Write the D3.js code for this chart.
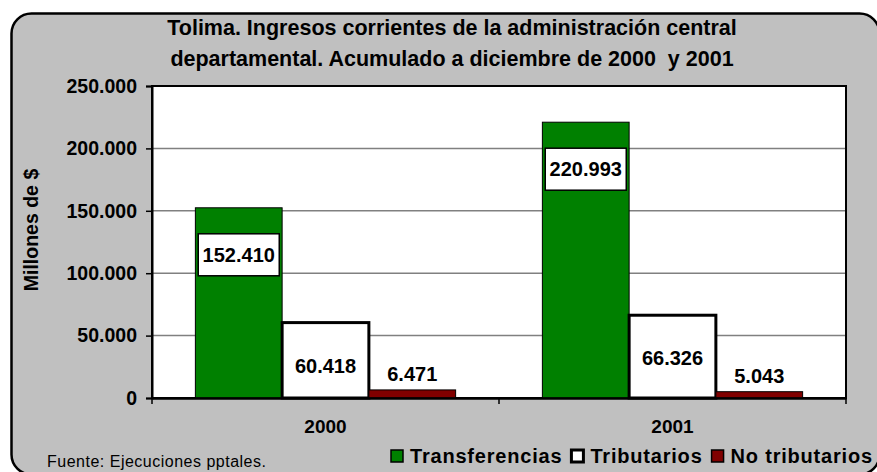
<!DOCTYPE html>
<html>
<head>
<meta charset="utf-8">
<script src="https://cdn.jsdelivr.net/npm/d3@7"></script>
<style>
  body { margin: 0; background: #fff; }
  svg { display: block; font-family: Arial, "Liberation Sans", sans-serif; }
</style>
</head>
<body>
<svg id="chart" width="877" height="472"></svg>
<script>
// data
const years = ['2000', '2001'];
const series = ['Transferencias', 'Tributarios', 'No tributarios'];
const transferencias = [152410, 220993];
const tributarios = [60418, 66326];
const noTributarios = [6471, 5043];
const yTicks = [0, 50000, 100000, 150000, 200000, 250000];

const colors = ['#008000', '#ffffff', '#800000'];
const strokeW = [1, 3, 1];

const plot = { left: 152, right: 846, top: 86, bottom: 398 };

const svg = d3.select('#chart');

// outer rounded frame
svg.append('rect')
  .attr('x', 11.5).attr('y', 13.5)
  .attr('width', 868).attr('height', 461)
  .attr('rx', 20).attr('ry', 20)
  .style('fill', '#c0c0c0')
  .style('stroke', '#000')
  .style('stroke-width', 2.5);

// title
const title = ['Tolima. Ingresos corrientes de la administración central',
  'departamental. Acumulado a diciembre de 2000  y 2001'];
svg.append('g').selectAll('text')
  .data(title)
  .enter().append('text')
  .attr('x', 452)
  .attr('y', (d, i) => 35 + i * 31)
  .attr('text-anchor', 'middle')
  .style('font-size', '21.5px')
  .style('font-weight', 'bold')
  .style('white-space', 'pre')
  .text(d => d);

const y = d3.scaleLinear().domain([0, 250000]).range([plot.bottom, plot.top]);
const x0 = d3.scaleBand().domain(years).range([plot.left, plot.right]);
const x1 = d3.scaleBand().domain(series).range([0, x0.bandwidth()])
  .paddingInner(0).paddingOuter(0.5);

// plot area
svg.append('rect')
  .attr('x', plot.left).attr('y', plot.top)
  .attr('width', plot.right - plot.left).attr('height', plot.bottom - plot.top)
  .style('fill', '#fff');

// grid lines
svg.append('g').selectAll('line')
  .data(yTicks.filter(t => t > 0 && t < 250000))
  .enter().append('line')
  .attr('x1', plot.left).attr('x2', plot.right)
  .attr('y1', d => y(d)).attr('y2', d => y(d))
  .style('stroke', '#808080')
  .style('stroke-width', 1.5);

// plot border
svg.append('rect')
  .attr('x', plot.left).attr('y', plot.top)
  .attr('width', plot.right - plot.left).attr('height', plot.bottom - plot.top)
  .style('fill', 'none')
  .style('stroke', '#000')
  .style('stroke-width', 2);

// bars
const values = [transferencias, tributarios, noTributarios];
const rows = [];
years.forEach((yr, i) => {
  series.forEach((s, j) => rows.push({ year: yr, s: s, j: j, v: values[j][i] }));
});

svg.append('g').selectAll('rect')
  .data(rows)
  .enter().append('rect')
  .attr('x', d => x0(d.year) + x1(d.s))
  .attr('y', d => y(d.v))
  .attr('width', x1.bandwidth())
  .attr('height', d => y(0) - y(d.v))
  .style('fill', d => colors[d.j])
  .style('stroke', '#000')
  .style('stroke-width', d => strokeW[d.j]);

// y axis
const yAxis = svg.append('g')
  .attr('transform', `translate(${plot.left},0)`)
  .call(d3.axisLeft(y).tickValues(yTicks).tickSize(6).tickPadding(9)
    .tickFormat(d => d3.format(',')(d).replace(/,/g, '.')));
yAxis.select('.domain').style('stroke-width', 2);
yAxis.selectAll('.tick line').style('stroke-width', 1.5);
yAxis.selectAll('text')
  .style('font-size', '19.5px')
  .style('font-weight', 'bold')
  .style('font-family', 'Arial, "Liberation Sans", sans-serif')
  .attr('fill', '#000');

// x axis
const xAxis = svg.append('g')
  .attr('transform', `translate(0,${plot.bottom})`)
  .call(d3.axisBottom(x0).tickSize(0).tickPadding(22));
xAxis.select('.domain').style('stroke-width', 2.5);
xAxis.selectAll('text')
  .style('font-size', '19px')
  .style('font-weight', 'bold')
  .style('font-family', 'Arial, "Liberation Sans", sans-serif')
  .attr('fill', '#000');
svg.append('g').selectAll('line')
  .data([plot.left, x0('2001'), plot.right])
  .enter().append('line')
  .attr('x1', d => d).attr('x2', d => d)
  .attr('y1', plot.bottom).attr('y2', plot.bottom + 6)
  .style('stroke', '#000')
  .style('stroke-width', 1.5);

// y axis title
svg.append('text')
  .attr('transform', 'translate(38,230) rotate(-90)')
  .attr('text-anchor', 'middle')
  .style('font-size', '19.5px')
  .style('font-weight', 'bold')
  .text('Millones de $');

// value labels
const fmt = v => d3.format(',')(v).replace(/,/g, '.');
const lbl = svg.append('g');
rows.forEach(d => {
  const cx = x0(d.year) + x1(d.s) + x1.bandwidth() / 2;
  const top = y(d.v);
  if (d.j === 0) {
    const cy = top + 47;
    lbl.append('rect')
      .attr('x', cx - 40.5).attr('y', cy - 21)
      .attr('width', 81).attr('height', 42)
      .style('fill', '#fff')
      .style('stroke', '#000')
      .style('stroke-width', 1.5);
    lbl.append('text')
      .attr('x', cx).attr('y', cy + 7)
      .attr('text-anchor', 'middle')
      .style('font-size', '20px').style('font-weight', 'bold')
      .text(fmt(d.v));
  } else if (d.j === 1) {
    lbl.append('text')
      .attr('x', cx).attr('y', top + 50)
      .attr('text-anchor', 'middle')
      .style('font-size', '20px').style('font-weight', 'bold')
      .text(fmt(d.v));
  } else {
    lbl.append('text')
      .attr('x', cx).attr('y', top - 9)
      .attr('text-anchor', 'middle')
      .style('font-size', '20px').style('font-weight', 'bold')
      .text(fmt(d.v));
  }
});

// legend
const legend = svg.append('g');
let lx = 391;
series.forEach((s, j) => {
  legend.append('rect')
    .attr('x', lx).attr('y', 450)
    .attr('width', 12).attr('height', 12)
    .style('fill', colors[j])
    .style('stroke', '#000')
    .style('stroke-width', j === 1 ? 3 : 1.5);
  const t = legend.append('text')
    .attr('x', lx + 19).attr('y', 463)
    .style('font-size', '20px').style('font-weight', 'bold')
    .style('letter-spacing', '0.8px')
    .text(s);
  lx += 19 + t.node().getComputedTextLength() + 9;
});

// source note
svg.append('text')
  .attr('x', 47).attr('y', 467)
  .style('font-size', '16px')
  .style('letter-spacing', '0.5px')
  .text('Fuente: Ejecuciones pptales.');
</script>
</body>
</html>
